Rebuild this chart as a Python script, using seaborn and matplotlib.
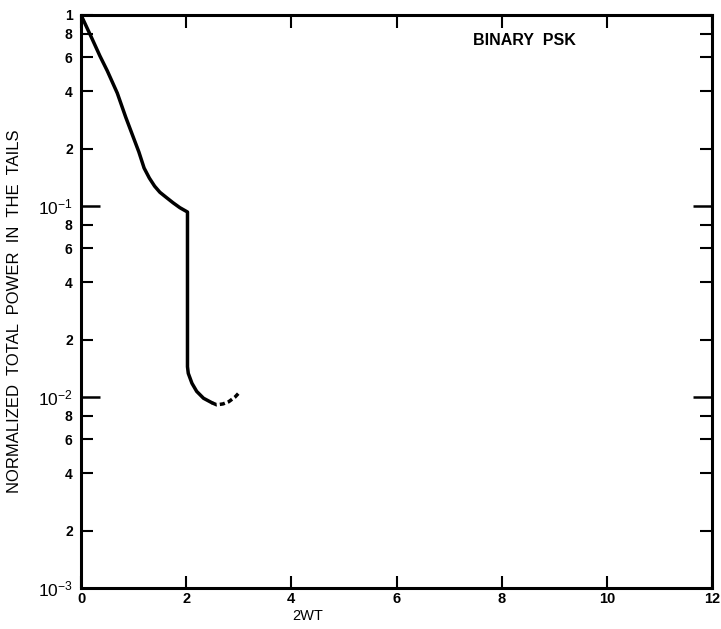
import numpy as np
import pandas as pd
import matplotlib
matplotlib.use("Agg")
import matplotlib.pyplot as plt
from matplotlib.ticker import FixedLocator, FixedFormatter
import seaborn as sns

# Normalized total power in the tails vs. 2WT, binary PSK
x_solid = [0.0, 0.1, 0.2, 0.36, 0.5, 0.69, 0.85, 1.0, 1.1, 1.2, 1.3, 1.4, 1.5, 1.62, 1.75, 1.88, 2.025,
           2.025, 2.04, 2.11, 2.20, 2.33, 2.49]
y_solid = [1.0, 0.873, 0.762, 0.61, 0.51, 0.39, 0.292, 0.227, 0.192, 0.158, 0.140, 0.127, 0.118, 0.111,
           0.104, 0.098, 0.093,
           0.0144, 0.0133, 0.0118, 0.0107, 0.00985, 0.00933]
x_dash = [2.49, 2.58, 2.70, 2.81, 2.93, 3.03]
y_dash = [0.00933, 0.0091, 0.0092, 0.00945, 0.0100, 0.0107]

x_ticks = [0, 2, 4, 6, 8, 10, 12]
x_ticklabels = ["0", "2", "4", "6", "8", "10", "12"]
y_major = [1e-3, 1e-2, 1e-1]
y_major_labels = [r"$10^{-3}$", r"$10^{-2}$", r"$10^{-1}$"]
y_minor_mant = [2, 4, 6, 8]

sns.set_theme(style="white")
plt.rcParams["font.family"] = ["Liberation Sans", "DejaVu Sans"]
plt.rcParams["mathtext.fontset"] = "custom"
plt.rcParams["mathtext.rm"] = "Liberation Sans"
plt.rcParams["mathtext.it"] = "Liberation Sans"
plt.rcParams["mathtext.default"] = "regular"
for key in ("text.color", "axes.labelcolor", "xtick.color", "ytick.color", "axes.edgecolor"):
    plt.rcParams[key] = "black"

fig = plt.figure(figsize=(7.21, 6.29), dpi=100)
ax = fig.add_axes([81 / 721, 1 - 588 / 629, 631 / 721, 573 / 629])

solid = pd.DataFrame({"x": x_solid, "y": y_solid})
dash = pd.DataFrame({"x": x_dash, "y": y_dash})
sns.lineplot(data=solid, x="x", y="y", sort=False, estimator=None, color="black",
             linewidth=2.5, ax=ax)
sns.lineplot(data=dash, x="x", y="y", sort=False, estimator=None, color="black",
             linewidth=2.5, ax=ax)
ax.lines[-1].set_dashes([1.5, 0.9])
for ln in ax.lines:
    ln.set_solid_joinstyle("round")
    ln.set_solid_capstyle("round")

ax.set_yscale("log")
ax.set_xlim(0, 12)
ax.set_ylim(1e-3, 1.0)

for s in ax.spines.values():
    s.set_linewidth(2.2)
    s.set_color("black")

# x ticks
ax.xaxis.set_major_locator(FixedLocator(x_ticks))
ax.xaxis.set_major_formatter(FixedFormatter(x_ticklabels))
ax.tick_params(axis="x", which="major", direction="in", length=9, width=1.5,
               top=True, bottom=True, labelsize=10.5, pad=3)

# y ticks: decades plus 2,4,6,8 within each decade
minor_vals = [m * 10.0 ** e for e in (-3, -2, -1) for m in y_minor_mant] + [1.0]
minor_labels = [str(m) for e in (-3, -2, -1) for m in y_minor_mant] + ["1"]
ax.yaxis.set_major_locator(FixedLocator(y_major))
ax.yaxis.set_major_formatter(FixedFormatter(y_major_labels))
ax.yaxis.set_minor_locator(FixedLocator(minor_vals))
ax.yaxis.set_minor_formatter(FixedFormatter(minor_labels))
ax.tick_params(axis="y", which="major", direction="in", length=14, width=1.8,
               left=True, right=True, labelsize=12.5, pad=6)
ax.tick_params(axis="y", which="minor", direction="in", length=8.5, width=1.5,
               left=True, right=True, labelsize=10, pad=6)
for lbl in ax.get_yticklabels(which="minor") + ax.get_xticklabels():
    lbl.set_fontweight("bold")

ax.set_xlabel("2WT", fontsize=10.5, labelpad=2)
ax.xaxis.set_label_coords(0.36, -0.037)
ax.set_ylabel("NORMALIZED  TOTAL  POWER  IN  THE  TAILS", fontsize=12)
ax.yaxis.set_label_coords(-0.094, 0.483)

ax.text(0.703, 0.955, "BINARY  PSK", transform=ax.transAxes, fontsize=11.5,
        fontweight="bold", ha="center", va="center")

fig.savefig("out.png", dpi=100, facecolor="white")
